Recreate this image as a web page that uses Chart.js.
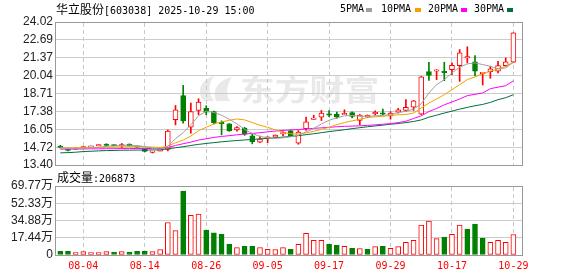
<!DOCTYPE html>
<html><head><meta charset="utf-8">
<script src="https://cdn.jsdelivr.net/npm/chart.js@4"></script>
<style>
html,body{margin:0;padding:0;background:#fff;}
#wrap{position:relative;width:578px;height:276px;overflow:hidden;background:#fff;}
canvas{position:absolute;left:0;}
.t{position:absolute;white-space:nowrap;color:#000;line-height:12px;height:12px;}
.m{font-family:"DejaVu Sans Mono",monospace;font-size:10px;}
.c{font-family:"Noto Sans CJK SC",sans-serif;font-size:12px;}
.sq{position:absolute;width:6px;height:4px;}
</style></head><body>
<div id="wrap">
<canvas id="k" width="578" height="170" style="top:0"></canvas>
<canvas id="v" width="578" height="106" style="top:170px"></canvas>
<div class="t" style="left:56px;top:3px"><span class="c">华立股份</span><span class="m">[603038] 2025-10-29 15:00</span></div>
<div class="t m" style="left:340px;top:3px">5PMA</div><div class="sq" style="left:366px;top:8px;background:#a0a0a0"></div>
<div class="t m" style="left:381px;top:3px">10PMA</div><div class="sq" style="left:415px;top:8px;background:#f5a000"></div>
<div class="t m" style="left:428px;top:3px">20PMA</div><div class="sq" style="left:461px;top:8px;background:#ff00ff"></div>
<div class="t m" style="left:474px;top:3px">30PMA</div><div class="sq" style="left:507px;top:8px;background:#006f3c"></div>
<div class="t" style="left:57px;top:171px"><span class="c">成交量</span><span class="m">:206873</span></div>
</div>
<script>
const dates = ["07-30","07-31","08-01","08-04","08-05","08-06","08-07","08-08","08-11","08-12",
"08-13","08-14","08-15","08-18","08-19","08-20","08-21","08-22","08-25","08-26",
"08-27","08-28","08-29","09-01","09-02","09-03","09-04","09-05","09-08","09-09",
"09-10","09-11","09-12","09-15","09-16","09-17","09-18","09-19","09-22","09-23",
"09-24","09-25","09-26","09-29","09-30","10-09","10-10","10-13","10-14","10-15",
"10-16","10-17","10-20","10-21","10-22","10-23","10-24","10-27","10-28","10-29"];
const opens  = [14.78,14.55,14.58,14.70,14.76,14.85,14.93,14.88,14.84,14.96,
14.79,14.58,14.37,14.46,14.55,16.76,18.55,16.21,17.45,17.63,
17.37,16.55,16.46,16.01,16.14,15.56,15.09,15.43,15.48,15.74,
15.94,15.02,16.10,16.82,16.96,17.18,17.18,17.16,17.29,16.72,
17.00,17.24,17.24,17.05,17.33,17.45,17.70,17.18,20.33,20.40,
20.34,20.48,20.78,21.38,21.06,20.22,20.33,20.36,20.78,21.03];
const closes = [14.72,14.50,14.62,14.74,14.80,14.88,14.89,14.86,14.90,14.82,
14.74,14.40,14.41,14.50,15.92,17.50,16.68,17.37,18.07,17.33,
16.55,16.48,15.94,16.18,15.69,15.14,15.32,15.47,15.62,15.79,
15.56,15.84,16.60,16.86,17.26,17.12,16.96,17.20,17.00,17.10,
17.06,17.28,17.20,17.26,17.50,17.68,18.17,19.94,20.06,20.45,
20.29,20.81,21.73,21.42,20.36,20.26,20.54,20.78,21.06,23.22];
const highs  = [14.86,14.58,14.66,14.75,14.81,14.89,14.98,14.90,15.00,14.97,
14.80,14.60,14.42,14.52,16.00,17.82,19.31,18.00,18.32,17.80,
17.40,16.68,16.48,16.25,16.20,15.69,15.55,15.50,15.64,15.88,
16.00,15.96,16.96,17.10,17.45,17.45,17.33,17.50,17.35,17.15,
17.12,17.42,17.55,17.36,17.60,18.25,18.20,19.98,21.03,20.48,
21.03,20.98,21.97,22.18,21.53,20.28,20.73,21.10,21.35,23.22];
const lows   = [14.65,14.45,14.55,14.64,14.70,14.82,14.82,14.84,14.67,14.80,
14.72,14.38,14.29,14.44,14.45,16.38,16.51,15.76,17.13,17.13,
16.45,15.64,15.90,15.92,15.60,14.97,15.05,15.06,15.44,15.56,
15.50,14.94,15.96,16.80,16.70,16.98,16.86,17.14,16.90,16.38,
16.92,17.10,17.13,16.80,17.25,17.37,17.45,17.15,19.69,19.74,
19.66,20.11,19.61,20.98,20.03,19.34,19.84,20.24,20.73,21.00];
const ma5  = [14.68,14.64,14.62,14.64,14.68,14.72,14.78,14.82,14.86,14.87,
14.84,14.76,14.66,14.57,14.79,15.35,15.80,16.39,17.05,17.40,
17.30,17.10,16.80,16.45,16.05,15.75,15.52,15.42,15.38,15.42,
15.50,15.62,15.85,16.12,16.45,16.72,16.90,17.05,17.08,17.02,
17.02,17.05,17.08,17.15,17.30,17.38,17.55,17.95,18.75,19.37,
19.74,20.24,20.66,20.91,20.98,20.86,20.73,20.54,20.61,21.03];
const ma10 = [14.66,14.66,14.67,14.68,14.69,14.70,14.72,14.73,14.75,14.76,
14.77,14.75,14.73,14.70,14.80,15.05,15.25,15.55,15.95,16.20,
16.45,16.60,16.72,16.82,16.75,16.55,16.35,16.20,16.00,15.85,
15.72,15.70,15.78,15.90,16.05,16.20,16.40,16.55,16.68,16.80,
16.92,16.98,17.02,17.08,17.13,17.15,17.26,17.63,18.00,18.30,
18.62,18.99,19.37,19.74,19.94,20.19,20.36,20.54,20.73,21.03];
const ma20 = [14.58,14.58,14.59,14.59,14.60,14.60,14.61,14.61,14.62,14.62,
14.63,14.63,14.62,14.63,14.70,14.85,14.98,15.10,15.25,15.35,
15.45,15.52,15.58,15.64,15.70,15.74,15.80,15.86,15.92,15.97,
16.00,16.03,16.08,16.12,16.16,16.20,16.24,16.27,16.29,16.31,
16.34,16.38,16.43,16.47,16.55,16.65,16.85,17.05,17.37,17.60,
17.87,18.08,18.30,18.55,18.65,18.75,19.07,19.18,19.29,19.66];
const ma30 = [14.30,14.32,14.35,14.40,14.42,14.45,14.47,14.48,14.50,14.50,
14.51,14.51,14.52,14.53,14.60,14.68,14.76,14.85,14.93,15.00,
15.06,15.12,15.17,15.22,15.26,15.30,15.34,15.38,15.42,15.47,
15.52,15.58,15.65,15.72,15.80,15.88,15.95,16.02,16.10,16.17,
16.24,16.30,16.36,16.43,16.48,16.55,16.63,16.75,16.95,17.10,
17.26,17.40,17.55,17.68,17.80,17.90,18.05,18.25,18.40,18.62];
const volumes = [3.8,3.8,2.4,3.4,2.4,2.4,3.4,2.7,3.4,2.7,
3.8,3.8,3.4,5.5,32.9,24.7,64.7,40.0,41.3,25.1,
22.4,21.0,10.9,7.5,8.8,8.8,7.5,5.8,5.5,7.5,
5.8,10.9,22.0,14.9,14.9,10.9,9.9,8.8,6.8,6.4,
5.8,8.5,8.8,6.8,8.5,12.9,14.9,30.2,34.2,16.6,
18.0,21.0,30.2,26.1,31.2,17.0,12.9,14.9,12.9,20.69];
const volUp = [0,0,1,1,1,1,1,0,1,0, 0,0,1,1,1,1,0,1,1,0, 0,0,0,1,0,0,1,1,1,1,
0,1,1,1,1,0,0,1,0,1, 0,1,0,1,1,1,1,1,1,1, 0,1,1,0,0,0,1,1,1,1];
const priceTicks = [13.40,14.72,16.05,17.38,18.71,20.04,21.37,22.69,24.02];
const volTicks = [0,17.44,34.88,52.33,69.77];
const volTickLabels = ["0","17.44万","34.88万","52.33万","69.77万"];
const dateTicks = ["08-04","08-14","08-26","09-05","09-17","09-29","10-17","10-29"];

const RED = '#ff0000', GRN = '#008000';
const up = closes.map((c,i)=>c>=opens[i]);
const xTickIdx = dateTicks.map(d=>dates.indexOf(d));
const YFONT = {family:'Arial, "Liberation Sans", "Noto Sans CJK SC", sans-serif', size:12};

function xScale(showLabels){
  return {
    type:'linear', min:-0.56, max:60.12, offset:false,
    afterBuildTicks: ax => { ax.ticks = xTickIdx.map(v=>({value:v})); },
    afterFit: ax => { ax.paddingLeft=0; ax.paddingRight=0; ax.height = showLabels?21:0; },
    grid:{display:false, drawTicks:false, offset:false},
    border:{display:false},
    ticks:{display:showLabels, padding:5, autoSkip:false, maxRotation:0, minRotation:0,
      color:'#ff0000', font:{family:'"DejaVu Sans Mono", monospace', size:10},
      callback: v => dates[v]}
  };
}
function yScale(min,max,ticks,labelFn){
  return {
    position:'left', min:min, max:max,
    afterBuildTicks: ax => { ax.ticks = ticks.map(v=>({value:v})); },
    afterFit: ax => { ax.width=56; ax.paddingTop=0; ax.paddingBottom=0; },
    grid:{color:'#cccccc', lineWidth:1, drawTicks:false},
    border:{display:false},
    ticks:{padding:3, autoSkip:false, color:'#222', font:YFONT, callback: labelFn}
  };
}
// dashed vertical date lines (positioned from the x scale) and the panel frame
const frame = {
  id:'frame',
  beforeDatasetsDraw(chart){
    const ctx = chart.ctx;
    const a = chart.chartArea;
    const xs = chart.scales.x;
    const L=Math.round(a.left), R=Math.round(a.right), T=Math.round(a.top), B=Math.round(a.bottom);
    ctx.save();
    ctx.lineWidth = 1;
    ctx.strokeStyle = '#c8c8c8';
    ctx.setLineDash([4,3]);
    for (let k = 0; k < xTickIdx.length; k++) {
      const px = Math.floor(xs.left + (xTickIdx[k] - xs.min) / (xs.max - xs.min) * xs.width) + 0.5;
      ctx.beginPath();
      ctx.moveTo(px, T + 1);
      ctx.lineTo(px, B);
      ctx.stroke();
    }
    ctx.setLineDash([]);
    ctx.strokeStyle = '#999999';
    ctx.strokeRect(L-0.5, T+0.5, R-L+1, B-T);
    ctx.restore();
  }
};
const watermark = {
  id:'watermark',
  beforeDraw(chart){
    const {ctx} = chart;
    ctx.save();
    ctx.fillStyle = '#e9e9e9';
    ctx.beginPath();
    ctx.moveTo(204,101); ctx.bezierCurveTo(196,92,200,80,214,76);
    ctx.bezierCurveTo(208,84,208,93,214,101); ctx.closePath(); ctx.fill();
    ctx.beginPath();
    ctx.moveTo(216,101); ctx.bezierCurveTo(212,90,218,80,232,77);
    ctx.bezierCurveTo(226,86,226,95,230,101); ctx.closePath(); ctx.fill();
    ctx.translate(240, 101);
    ctx.scale(1.2, 1);
    ctx.font = 'bold 29px "Noto Sans CJK SC"';
    ctx.textBaseline = 'alphabetic';
    ctx.fillText('东方财富', 0, 0);
    ctx.restore();
  }
};

const bodies = opens.map((o,i)=>{
  let a=o, b=closes[i];
  if (Math.abs(a-b) < 0.1) { const m=(a+b)/2; a=m-0.05; b=m+0.05; }
  return {x:i, y:[a,b]};
});
const wicks = lows.map((l,i)=>({x:i, y:[l, highs[i]]}));
const line = (arr,color)=>({type:'line', data:arr.map((v,i)=>({x:i,y:v})), borderColor:color,
  borderWidth:1, pointRadius:0, tension:0, order:0, fill:false});

new Chart(document.getElementById('k'), {
  type:'bar',
  data:{datasets:[
    line(ma5,'#a0a0a0'), line(ma10,'#f5a000'), line(ma20,'#ff00ff'), line(ma30,'#006f3c'),
    {data:bodies, order:1, grouped:false, barThickness:5, borderWidth:1, borderSkipped:false,
     backgroundColor: up.map(u=>u?'#ffffff':GRN), borderColor: up.map(u=>u?RED:GRN)},
    {data:wicks, order:2, grouped:false, barThickness:1, borderWidth:0,
     backgroundColor: up.map(u=>u?RED:GRN)}
  ]},
  options:{
    responsive:false, animation:false, devicePixelRatio:1,
    layout:{padding:{left:0,right:56,top:22,bottom:5}},
    plugins:{legend:{display:false}, tooltip:{enabled:false}},
    scales:{x:xScale(false), y:yScale(13.40,24.02,priceTicks,v=>v.toFixed(2))}
  },
  plugins:[watermark, frame]
});

new Chart(document.getElementById('v'), {
  type:'bar',
  data:{datasets:[
    {data:volumes.map((v,i)=>({x:i,y:v})), grouped:false, barThickness:5, borderWidth:1, borderSkipped:false,
     backgroundColor: volUp.map(u=>u?'#ffffff':GRN), borderColor: volUp.map(u=>u?RED:GRN)}
  ]},
  options:{
    responsive:false, animation:false, devicePixelRatio:1,
    layout:{padding:{left:0,right:56,top:16,bottom:0}},
    plugins:{legend:{display:false}, tooltip:{enabled:false}},
    scales:{x:xScale(true), y:yScale(0,69.77,volTicks,v=>volTickLabels[volTicks.indexOf(v)])}
  },
  plugins:[frame]
});
</script>
</body></html>
